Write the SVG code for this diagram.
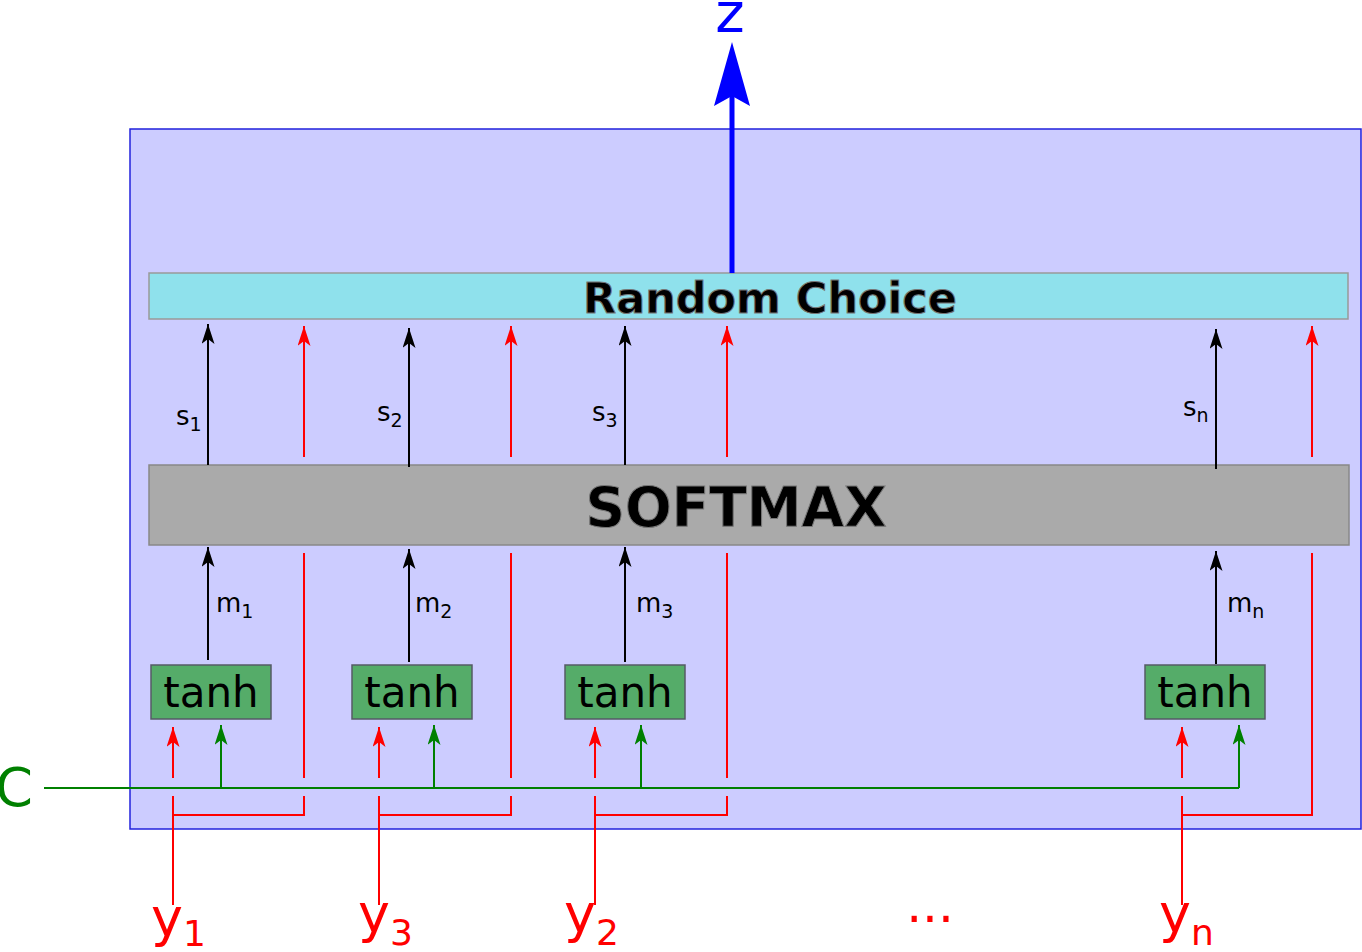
<svg xmlns="http://www.w3.org/2000/svg" width="1362" height="952" viewBox="0 0 1362 952">
<defs>
<marker id="ab" viewBox="0 0 20 13" refX="20" refY="6.5" markerWidth="20" markerHeight="13" markerUnits="userSpaceOnUse" orient="auto"><path d="M20,6.5 L0,0 L5,6.5 L0,13 Z" fill="#000"/></marker>
<marker id="ar" viewBox="0 0 20 13" refX="20" refY="6.5" markerWidth="20" markerHeight="13" markerUnits="userSpaceOnUse" orient="auto"><path d="M20,6.5 L0,0 L5,6.5 L0,13 Z" fill="#f00"/></marker>
<marker id="ag" viewBox="0 0 20 13" refX="20" refY="6.5" markerWidth="20" markerHeight="13" markerUnits="userSpaceOnUse" orient="auto"><path d="M20,6.5 L0,0 L5,6.5 L0,13 Z" fill="#008000"/></marker>
</defs>
<style>
text{font-family:"DejaVu Sans",sans-serif}
.k{stroke:#000;stroke-width:2;fill:none;marker-end:url(#ab)}
.r{stroke:#f00;stroke-width:2;fill:none}
.ra{marker-end:url(#ar)}
.g{stroke:#008000;stroke-width:2;fill:none}
.ga{marker-end:url(#ag)}
.tanh{fill:#55ac69;stroke:#555b66;stroke-width:1.5}
.tt{font-size:42px;fill:#000}
.lab{font-size:26px;fill:#000}
.y{font-size:54px;fill:#f00}
</style>
<rect id="frame" x="130" y="129" width="1231" height="700" fill="#ccf" stroke="#2222dd" stroke-width="1.5"/>
<g id="rc"><rect x="149" y="273" width="1199" height="46" fill="#8fe1ec" stroke="#999" stroke-width="1.5"/>
<text x="770" y="313" text-anchor="middle" font-size="43" font-weight="bold" fill="#000" stroke="#777" stroke-width="1">Random Choice</text></g>
<g id="softmax"><rect x="149" y="465" width="1200" height="80" fill="#aaa" stroke="#888" stroke-width="1.5"/>
<text x="736" y="526" text-anchor="middle" font-size="55" font-weight="bold" fill="#000" stroke="#777" stroke-width="1">SOFTMAX</text></g>
<g id="tanh1"><rect class="tanh" x="151" y="665" width="120" height="54"/><text x="211" y="707" text-anchor="middle" class="tt">tanh</text></g>
<g id="tanh2"><rect class="tanh" x="352" y="665" width="120" height="54"/><text x="412" y="707" text-anchor="middle" class="tt">tanh</text></g>
<g id="tanh3"><rect class="tanh" x="565" y="665" width="120" height="54"/><text x="625" y="707" text-anchor="middle" class="tt">tanh</text></g>
<g id="tanhn"><rect class="tanh" x="1145" y="665" width="120" height="54"/><text x="1205" y="707" text-anchor="middle" class="tt">tanh</text></g>
<g id="connectors">
<path class="k" d="M208,660V547"/><path class="k" d="M409,662V549"/><path class="k" d="M625,662V547"/><path class="k" d="M1216,664V551"/>
<path class="k" d="M208,465V324"/><path class="k" d="M409,467V328"/><path class="k" d="M625,465V326"/><path class="k" d="M1216,469V329"/>
<path class="r ra" d="M304,457V326"/><path class="r ra" d="M511,457V326"/><path class="r ra" d="M727,457V326"/><path class="r ra" d="M1312,457V326"/>
<path class="r ra" d="M173,778V727"/><path class="r ra" d="M379,778V727"/><path class="r ra" d="M595,778V727"/><path class="r ra" d="M1182,778V727"/>
<path class="r" d="M304,778V553 M511,778V553 M727,778V553"/>
<path class="r" d="M173,905V796 M173,815H304V796 M379,905V796 M379,815H511V796 M595,905V796 M595,815H727V796 M1182,905V796 M1182,815H1312V553"/>
<path class="g" d="M44,788H1239"/>
<path class="g ga" d="M221,788V725"/><path class="g ga" d="M434,788V725"/><path class="g ga" d="M641,788V725"/><path class="g ga" d="M1239,788V725"/>
<path d="M732,273V90" stroke="#00f" stroke-width="5"/>
<path d="M732,42 L750,106 L732,96 L714,106 Z" fill="#00f"/>
</g>
<text x="730" y="32" text-anchor="middle" font-size="56" fill="#00f">z</text>
<text x="14" y="806" text-anchor="middle" font-size="54" fill="#008000">C</text>
<g>
<text x="176" y="425" class="lab">s<tspan font-size="19" dy="6">1</tspan></text>
<text x="377" y="421" class="lab">s<tspan font-size="19" dy="6">2</tspan></text>
<text x="592" y="421" class="lab">s<tspan font-size="19" dy="6">3</tspan></text>
<text x="1183" y="416" class="lab">s<tspan font-size="19" dy="6">n</tspan></text>
<text x="216" y="612" class="lab">m<tspan font-size="19" dy="6">1</tspan></text>
<text x="415" y="612" class="lab">m<tspan font-size="19" dy="6">2</tspan></text>
<text x="636" y="612" class="lab">m<tspan font-size="19" dy="6">3</tspan></text>
<text x="1227" y="612" class="lab">m<tspan font-size="19" dy="6">n</tspan></text>
</g>
<text x="151" y="936" class="y">y<tspan font-size="36" dy="10">1</tspan></text>
<text x="358" y="932" class="y">y<tspan font-size="36" dy="13">3</tspan></text>
<text x="564" y="932" class="y">y<tspan font-size="36" dy="13">2</tspan></text>
<text x="1159" y="932" class="y">y<tspan font-size="36" dy="13">n</tspan></text>
<text x="930" y="922" text-anchor="middle" font-size="50" fill="#f00">...</text>
</svg>
